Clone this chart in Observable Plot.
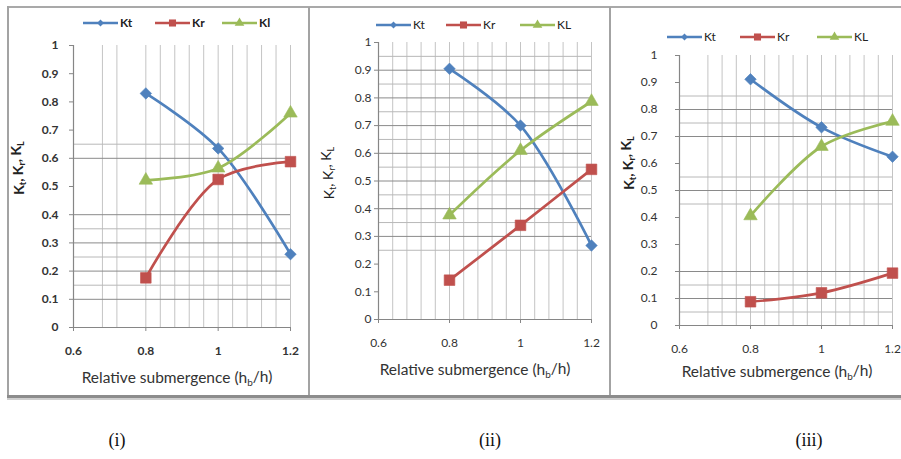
<!DOCTYPE html>
<html>
<head>
<meta charset="utf-8">
<script src="https://cdn.jsdelivr.net/npm/d3@7"></script>
<script src="https://cdn.jsdelivr.net/npm/@observablehq/plot@0.6"></script>
<style>
  body { margin: 0; background: #fff; }
  #root { position: relative; width: 901px; height: 459px; overflow: hidden; font-family: Lato, "Open Sans", sans-serif; background: #fff; }
  .ln { position: absolute; }
  .panel { position: absolute; top: 7px; }
  .cap { position: absolute; font-family: "Liberation Serif", "DejaVu Serif", serif; font-size: 18px; color: #111; transform: translate(-50%, -50%); }
  #overlay { position: absolute; left: 0; top: 0; pointer-events: none; }
</style>
</head>
<body>
<div id="root"></div>
<script>
// ---------- data ----------
const relSub = [0.8, 1.0, 1.2];
const seriesNames = ["Kt", "Kr", "KL"];
const seriesColors = ["#4f81bd", "#c0504d", "#9bbb59"];

const ktI = [0.83, 0.635, 0.26];
const krI = [0.176, 0.525, 0.588];
const klI = [0.522, 0.565, 0.76];

const ktII = [0.905, 0.70, 0.267];
const krII = [0.142, 0.34, 0.542];
const klII = [0.377, 0.61, 0.787];

const ktIII = [0.912, 0.734, 0.625];
const krIII = [0.088, 0.121, 0.194];
const klIII = [0.406, 0.663, 0.756];

const xTicks = [0.6, 0.8, 1, 1.2];
const yTicks = [0, 0.1, 0.2, 0.3, 0.4, 0.5, 0.6, 0.7, 0.8, 0.9, 1];

const gridXI = [0.68, 0.72, 0.8, 0.84, 0.88, 0.92, 0.96, 1, 1.04, 1.08, 1.12, 1.16, 1.2];
const gridYI = [0.1, 0.15, 0.2, 0.25, 0.3, 0.35, 0.4, 0.6, 0.65];
const gridXII = [0.64, 0.68, 0.72, 0.76, 0.8, 0.84, 0.88, 0.92, 0.96, 1, 1.04, 1.08, 1.12, 1.16, 1.2];
const gridYII = [0.25, 0.3, 0.35, 0.4, 0.45, 0.5, 0.55, 0.6, 0.65, 0.7, 0.75, 0.8, 0.85, 0.9, 0.95];
const gridXIII = [0.68, 0.72, 0.76, 0.8, 0.84, 0.88, 0.92, 0.96, 1, 1.04, 1.08, 1.12, 1.16, 1.2];
const gridYIII = [0.05, 0.1, 0.15, 0.2, 0.45, 0.5, 0.55, 0.7, 0.75, 0.8, 0.85];

const legendI = ["Kt", "Kr", "Kl"];
const legendII = ["Kt", "Kr", "KL"];
const legendIII = ["Kt", "Kr", "KL"];
const captions = ["(i)", "(ii)", "(iii)"];
const xTitle = "Relative submergence (h";

// ---------- layout ----------
const root = document.getElementById("root");
function line(l, t, w, h, c) {
  const d = document.createElement("div");
  d.className = "ln";
  Object.assign(d.style, {left: l + "px", top: t + "px", width: w + "px", height: h + "px", background: c});
  root.appendChild(d);
}
line(7, 6, 894, 2, "#a9a9a9");
line(7, 6, 2, 392, "#a3a3a3");
line(308, 7, 2, 390, "#a3a3a3");
line(609, 7, 2, 390, "#a3a3a3");
line(7, 395, 894, 3, "#8c8c8c");
line(7, 398, 894, 2, "#cfcfcf");

const panels = [
  {left: 8, w: 301, h: 390, ml: 65, mr: 19, mt: 38, mb: 70, vals: [ktI, krI, klI], gx: gridXI, gy: gridYI, ytp: 11, bold: true,
   legend: legendI, legY: 23, legX: [83, 155, 222], ytitle: {x: 19, y: 168}, xt: {x: 177, y: 378}},
  {left: 309, w: 301, h: 390, ml: 69, mr: 19, mt: 35, mb: 78, vals: [ktII, krII, klII], gx: gridXII, gy: gridYII, ytp: 3, bold: false,
   legend: legendII, legY: 25, legX: [376, 446, 520], ytitle: {x: 329, y: 173}, xt: {x: 475, y: 370}},
  {left: 610, w: 291, h: 390, ml: 69, mr: 9, mt: 48, mb: 72, vals: [ktIII, krIII, klIII], gx: gridXIII, gy: gridYIII, ytp: 18, bold: false,
   legend: legendIII, legY: 37, legX: [667, 740, 817], ytitle: {x: 629, y: 163}, xt: {x: 777, y: 372}}
];
const symbols = ["diamond2", "square", "triangle"];
const radii = [5.2, 6.0, 5.0];

panels.forEach((p, pi) => {
  const rows = [];
  seriesNames.forEach((s, k) => p.vals[k].forEach((v, i) => rows.push({x: relSub[i], v, s})));
  const isMajor = d => Math.abs(d * 10 - Math.round(d * 10)) < 1e-6;
  const marks = [
    Plot.ruleX(p.gx, {y1: 0, y2: 1, stroke: "#c4c4c4", strokeWidth: 1}),
    Plot.ruleY(p.gy, {x1: 0.6, x2: 1.2, stroke: d => isMajor(d) ? "#8a8a8a" : "#b8b8b8", strokeWidth: 1}),
    Plot.axisX({ticks: xTicks, tickSize: 4, tickPadding: 15, label: null, stroke: "#868686",
      fontWeight: p.bold ? "bold" : "normal", tickFormat: d => String(d)}),
    Plot.axisY({ticks: yTicks, tickSize: 4, tickPadding: p.ytp, label: null, stroke: "#868686",
      fontWeight: p.bold ? "bold" : "normal", tickFormat: d => String(d)}),
    Plot.ruleX([0.6], {y1: 0, y2: 1, stroke: "#868686", strokeWidth: 1.2}),
    Plot.ruleY([0], {x1: 0.6, x2: 1.2, stroke: "#868686", strokeWidth: 1.2}),
    Plot.line(rows, {x: "x", y: "v", z: "s", stroke: "s", curve: "catmull-rom", strokeWidth: 2.7})
  ];
  seriesNames.forEach((s, k) => {
    marks.push(Plot.dot(rows.filter(d => d.s === s), {x: "x", y: "v", symbol: symbols[k], fill: seriesColors[k], stroke: seriesColors[k], strokeWidth: 0.6, r: radii[k]}));
  });
  const chart = Plot.plot({
    width: p.w, height: p.h,
    marginLeft: p.ml, marginRight: p.mr, marginTop: p.mt, marginBottom: p.mb,
    x: {domain: [0.6, 1.2]},
    y: {domain: [0, 1]},
    color: {domain: seriesNames, range: seriesColors},
    style: {fontFamily: "Lato, 'Open Sans', sans-serif", fontSize: "12px", color: "#333", background: "transparent", overflow: "visible"},
    marks
  });
  const wrap = document.createElement("div");
  wrap.className = "panel";
  wrap.style.left = p.left + "px";
  wrap.appendChild(chart);
  root.appendChild(wrap);
});

// ---------- annotations (legend, axis titles, captions) ----------
const svg = d3.select(root).append("svg").attr("id", "overlay").attr("width", 901).attr("height", 459);
panels.forEach((p, pi) => {
  // legend
  seriesNames.forEach((s, k) => {
    const x0 = p.legX[k], x1 = x0 + 35, y = p.legY;
    const g = svg.append("g");
    g.append("line").attr("x1", x0).attr("x2", x1).attr("y1", y).attr("y2", y).attr("stroke", seriesColors[k]).attr("stroke-width", 2.4);
    const sym = [d3.symbolDiamond2, d3.symbolSquare, d3.symbolTriangle][k];
    const size = [30, 50, 40][k];
    g.append("path").attr("d", d3.symbol(sym, size)()).attr("transform", `translate(${(x0 + x1) / 2},${y})`).attr("fill", seriesColors[k]);
    g.append("text").attr("x", x1 + 2).attr("y", y).attr("dy", "0.35em").attr("font-size", 12)
      .attr("font-family", "Lato, sans-serif").attr("fill", "#222").attr("font-weight", p.bold ? "bold" : "normal").text(p.legend[k]);
  });
  // y title
  const yt = svg.append("text").attr("transform", `translate(${p.ytitle.x},${p.ytitle.y}) rotate(-90)`)
    .attr("text-anchor", "middle").attr("dy", "0.35em").attr("font-size", 14).attr("font-family", "Lato, sans-serif")
    .attr("font-weight", pi === 1 ? "normal" : "bold").attr("fill", "#222");
  [["K", "t"], ["K", "r"], ["K", "L"]].forEach(([a, b], i) => {
    yt.append("tspan").text((i ? ", " : "") + a).attr("dy", i ? "-0.25em" : null);
    yt.append("tspan").text(b).attr("font-size", 9).attr("dy", "0.25em");
  });
  // x title
  const xt = svg.append("text").attr("x", p.xt.x).attr("y", p.xt.y).attr("text-anchor", "middle").attr("dy", "0.35em")
    .attr("font-size", 15.5).attr("font-family", "Lato, sans-serif").attr("fill", "#333");
  xt.append("tspan").text(xTitle);
  xt.append("tspan").text("b").attr("font-size", 10).attr("dy", "0.3em");
  xt.append("tspan").text("/h)").attr("dy", "-0.3em");
});
[[117, 440], [490, 440], [809, 440]].forEach(([x, y], i) => {
  const c = document.createElement("div");
  c.className = "cap";
  c.style.left = x + "px"; c.style.top = y + "px";
  c.textContent = captions[i];
  root.appendChild(c);
});
</script>
</body>
</html>
